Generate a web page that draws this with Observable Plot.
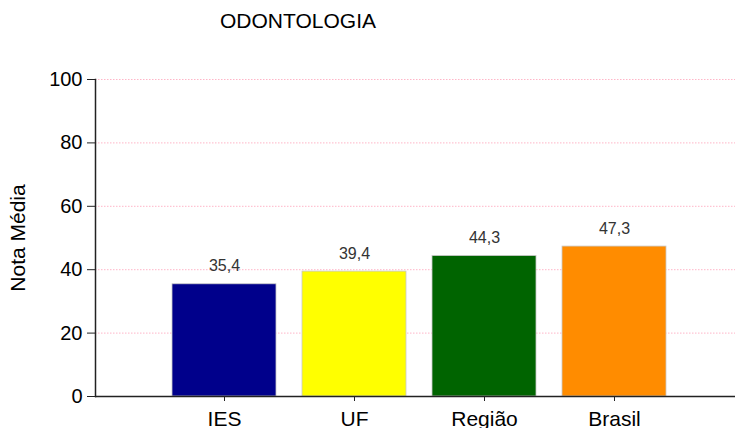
<!DOCTYPE html>
<html>
<head>
<meta charset="utf-8">
<script src="https://cdn.jsdelivr.net/npm/d3@7"></script>
<script src="https://cdn.jsdelivr.net/npm/@observablehq/plot@0.6"></script>
<style>
  html, body { margin: 0; padding: 0; background: #fff; }
  #wrap { position: relative; width: 735px; height: 428px; overflow: hidden; font-family: "Liberation Sans", Arial, sans-serif; }
  #title { position: absolute; left: 220px; top: 9px; font-size: 21px; color: #000; }
</style>
</head>
<body>
<div id="wrap"><div id="title">ODONTOLOGIA</div></div>
<script>
const categories = ["IES", "UF", "Região", "Brasil"];
const values = [35.4, 39.4, 44.3, 47.3];
const colors = ["#00008B", "#FFFF00", "#006400", "#FF8C00"];
const yTicks = [0, 20, 40, 60, 80, 100];

const data = categories.map((c, i) => ({cat: c, value: values[i], color: colors[i]}));
const fmt = v => v.toFixed(1).replace(".", ",");

const chart = Plot.plot({
  width: 735,
  height: 428,
  marginLeft: 95,
  marginRight: 0,
  marginTop: 79,
  marginBottom: 32,
  style: {fontFamily: "'Liberation Sans', Arial, sans-serif", fontSize: "20px", background: "transparent"},
  x: {domain: categories, paddingInner: 0.2, paddingOuter: 0.5615, align: 0.527, label: null},
  y: {domain: [0, 100], label: null},
  marks: [
    Plot.gridY(yTicks, {stroke: "#ffb6c8", strokeOpacity: 1, strokeDasharray: "1.5,1.5", strokeWidth: 1}),
    Plot.barY(data, {x: "cat", y: "value", fill: "color", stroke: "#c8c8c8", strokeWidth: 0.8}),
    Plot.text(data, {x: "cat", y: "value", text: d => fmt(d.value), dy: -13, fontSize: 16, fill: "#333", lineAnchor: "bottom"}),
    Plot.ruleY([0], {stroke: "#222", strokeWidth: 1.5}),
    Plot.frame({anchor: "left", stroke: "#222", strokeWidth: 1.5}),
    Plot.axisY(yTicks, {tickSize: 8, tickPadding: 5, fontSize: 20, fill: "#000", label: null, stroke: "#222"}),
    Plot.axisX({tickSize: 5, tickPadding: 10, fontSize: 21, fill: "#000", label: null, stroke: "#222"}),
    Plot.text(["Nota Média"], {frameAnchor: "left", textAnchor: "middle", dx: -77, rotate: -90, fontSize: 21, fill: "#000", text: d => d})
  ]
});
document.getElementById("wrap").appendChild(chart);
</script>
</body>
</html>
